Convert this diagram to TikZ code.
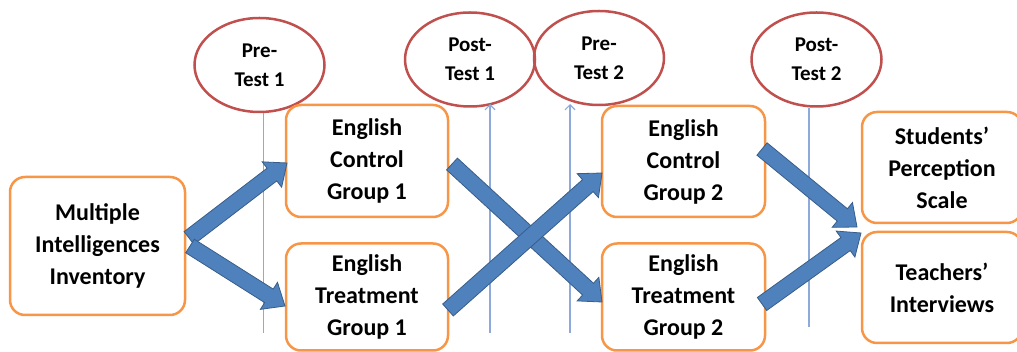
\documentclass[tikz,border=0pt]{standalone}
\usepackage{fontspec}
\setmainfont{Carlito}
\usetikzlibrary{calc,arrows.meta,shapes.geometric}
\definecolor{boxorange}{HTML}{F79646}
\definecolor{ellred}{HTML}{C0504D}
\definecolor{arrfill}{HTML}{4F81BD}
\definecolor{arrline}{HTML}{385D8A}
\definecolor{thinblue}{HTML}{8EAADB}
\newcommand{\fatarrow}[2]{%
  \coordinate (fa-h) at ($(#2)!19pt!(#1)$);
  \draw[fatarrowstyle] ($(#1)!8pt!90:(#2)$) -- ($(fa-h)!8pt!90:(#2)$) -- ($(fa-h)!16pt!90:(#2)$) -- (#2)
    -- ($(fa-h)!16pt!-90:(#2)$) -- ($(fa-h)!8pt!-90:(#2)$) -- ($(#1)!8pt!-90:(#2)$) -- cycle;
}
\tikzset{
  groupbox/.style={draw=boxorange, line width=2.5pt, rounded corners=15pt, align=center,
    font=\bfseries\fontsize{24}{32}\selectfont, inner sep=0pt},
  testell/.style={draw=ellred, line width=2.5pt, ellipse, align=center, inner sep=0pt,
    minimum width=130pt, minimum height=94pt, font=\bfseries\fontsize{21}{29}\selectfont},
  thinline/.style={draw=thinblue, line width=1.2pt},
  thinarrow/.style={thinline, -{Straight Barb[length=5pt,width=10pt,line width=1.2pt]}},
  fatarrowstyle/.style={fill=arrfill, draw=arrline, line width=0.8pt, line join=miter}
}
\begin{document}
\begin{tikzpicture}[x=1pt,y=-1pt]
\useasboundingbox (0,0) rectangle (1017,352);
% test ellipses
\node[testell] (pre1) at (259.5,65) {Pre-\\Test 1};
\node[testell] (post1) at (470,59.5) {Post-\\Test 1};
\node[testell] (pre2) at (599,58) {Pre-\\Test 2};
\node[testell] (post2) at (816.5,59.5) {Post-\\Test 2};
% thin lines
\coordinate (l1) at (263.5,333);
\coordinate (l2) at (490,333);
\coordinate (l3) at (570,333);
\coordinate (l4) at (809,327);
\draw[thinline] (l1 |- pre1.south) -- (l1);
\draw[thinarrow] (l2) -- (490,104);
\draw[thinarrow] (l3) -- (570,104);
\draw[thinline] (l4 |- post2.south) -- (l4);
% boxes
\node[groupbox, minimum width=175pt, minimum height=138pt] (mi) at (97.5,246) {Multiple\\Intelligences\\Inventory};
\node[groupbox, minimum width=162pt, minimum height=112pt] (ecg1) at (367,161) {English\\Control\\Group 1};
\node[groupbox, minimum width=162pt, minimum height=107pt] (etg1) at (367,297) {English\\Treatment\\Group 1};
\node[groupbox, minimum width=163pt, minimum height=111pt] (ecg2) at (683.5,161.5) {English\\Control\\Group 2};
\node[groupbox, minimum width=163pt, minimum height=107pt] (etg2) at (683.5,297) {English\\Treatment\\Group 2};
\node[groupbox, minimum width=160pt, minimum height=111pt] (sps) at (942,167.5) {Students'\\Perception\\Scale};
\node[groupbox, minimum width=160pt, minimum height=111pt] (ti) at (942,287.5) {Teachers'\\Interviews};
% fat arrows
\coordinate (a1s) at (189,238); \coordinate (a1t) at (287,163);
\coordinate (a2s) at (190,246); \coordinate (a2t) at (285,306);
\coordinate (a3s) at (452,164); \coordinate (a3t) at (602,302);
\coordinate (a4s) at (448,310); \coordinate (a4t) at (602,173);
\coordinate (a5s) at (762,149); \coordinate (a5t) at (857,227);
\coordinate (a6s) at (762,304); \coordinate (a6t) at (861,233);
\fatarrow{a1s}{a1t}
\fatarrow{a2s}{a2t}
\fatarrow{a3s}{a3t}
\fatarrow{a4s}{a4t}
\fatarrow{a5s}{a5t}
\fatarrow{a6s}{a6t}
\end{tikzpicture}
\end{document}
